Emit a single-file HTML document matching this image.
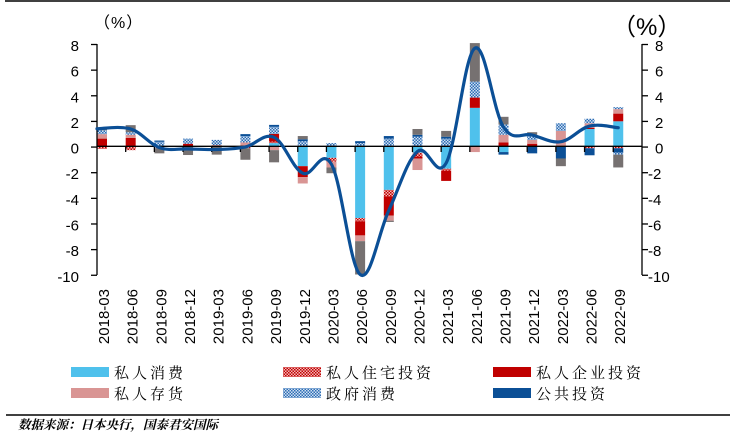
<!DOCTYPE html>
<html><head><meta charset="utf-8"><style>
body{margin:0;background:#fff;}
svg{display:block;}
.t{font-family:"Liberation Sans",sans-serif;font-size:15px;fill:#000;}
.lg{font-family:"Liberation Serif","Noto Serif CJK SC",serif;font-size:15px;letter-spacing:3px;fill:#000;}
</style></head><body>
<svg id="s" width="736" height="432" viewBox="0 0 736 432" xmlns="http://www.w3.org/2000/svg">
<defs>
<pattern id="hr" width="3" height="3" patternUnits="userSpaceOnUse"><rect width="3" height="3" fill="#f2b8b8"/><rect width="1.5" height="1.5" fill="#c00000"/><rect x="1.5" y="1.5" width="1.5" height="1.5" fill="#c00000"/></pattern>
<pattern id="hb" width="3" height="3" patternUnits="userSpaceOnUse"><rect width="3" height="3" fill="#cfe0f2"/><rect width="1.5" height="1.5" fill="#2e6db4"/><rect x="1.5" y="1.5" width="1.5" height="1.5" fill="#2e6db4"/></pattern>
</defs>
<line x1="5" y1="1" x2="730" y2="1" stroke="#000" stroke-width="1.5"/>
<line x1="6" y1="415" x2="730" y2="415" stroke="#000" stroke-width="1.5"/>
<g id="bars"></g>
<line x1="97" y1="146.3" x2="642" y2="146.3" stroke="#000" stroke-width="1.3"/>
<g id="ax" stroke="#000" stroke-width="1.3"></g>
<path id="ln" fill="none" stroke="#0b4f96" stroke-width="3.2" stroke-linecap="round"/>
<text x="94" y="28" class="t" style="font-size:16px;letter-spacing:1px">（%）</text>
<text x="612" y="35" class="t" style="font-size:24px">（%）</text>
<g class="t" text-anchor="end">
<text x="79" y="51">8</text><text x="79" y="76.7">6</text><text x="79" y="102.3">4</text><text x="79" y="128">2</text><text x="79" y="153.6">0</text><text x="79" y="179.2">-2</text><text x="79" y="204.9">-4</text><text x="79" y="230.5">-6</text><text x="79" y="256.2">-8</text><text x="79" y="281.8">-10</text>
</g>
<g class="t">
<text x="655" y="51">8</text><text x="655" y="76.7">6</text><text x="655" y="102.3">4</text><text x="655" y="128">2</text><text x="655" y="153.6">0</text><text x="648" y="179.2">-2</text><text x="648" y="204.9">-4</text><text x="648" y="230.5">-6</text><text x="648" y="256.2">-8</text><text x="648" y="281.8">-10</text>
</g>
<g class="t" style="font-size:15px" text-anchor="end">
<text transform="translate(109,289) rotate(-90)">2018-03</text>
<text transform="translate(137.7,289) rotate(-90)">2018-06</text>
<text transform="translate(166.4,289) rotate(-90)">2018-09</text>
<text transform="translate(195,289) rotate(-90)">2018-12</text>
<text transform="translate(223.7,289) rotate(-90)">2019-03</text>
<text transform="translate(252.4,289) rotate(-90)">2019-06</text>
<text transform="translate(281.1,289) rotate(-90)">2019-09</text>
<text transform="translate(309.8,289) rotate(-90)">2019-12</text>
<text transform="translate(338.4,289) rotate(-90)">2020-03</text>
<text transform="translate(367.1,289) rotate(-90)">2020-06</text>
<text transform="translate(395.8,289) rotate(-90)">2020-09</text>
<text transform="translate(424.5,289) rotate(-90)">2020-12</text>
<text transform="translate(453.2,289) rotate(-90)">2021-03</text>
<text transform="translate(481.8,289) rotate(-90)">2021-06</text>
<text transform="translate(510.5,289) rotate(-90)">2021-09</text>
<text transform="translate(539.2,289) rotate(-90)">2021-12</text>
<text transform="translate(567.9,289) rotate(-90)">2022-03</text>
<text transform="translate(596.6,289) rotate(-90)">2022-06</text>
<text transform="translate(625.2,289) rotate(-90)">2022-09</text>
</g>
<rect x="71" y="367" width="38" height="10" fill="#4fc1ec"/><text x="114" y="378" class="lg">私人消费</text>
<rect x="283" y="367" width="38" height="10" fill="url(#hr)"/><text x="326" y="378" class="lg">私人住宅投资</text>
<rect x="493" y="367" width="38" height="10" fill="#c00000"/><text x="536" y="378" class="lg">私人企业投资</text>
<rect x="71" y="388" width="38" height="10" fill="#d99594"/><text x="114" y="399" class="lg">私人存货</text>
<rect x="283" y="388" width="38" height="10" fill="url(#hb)"/><text x="326" y="399" class="lg">政府消费</text>
<rect x="493" y="388" width="38" height="10" fill="#0b4f96"/><text x="536" y="399" class="lg">公共投资</text>
<text x="18" y="429" style="font-family:'Liberation Serif','Noto Serif CJK SC',serif;font-size:12.5px;font-style:italic;font-weight:bold">数据来源：日本央行，国泰君安国际</text>
</svg>
<script>
var Z=146.3,U=12.82,W=28.68,X0=97;
function Y(v){return Z-v*U;}
var C={lb:"#4fc1ec",hr:"url(#hr)",dr:"#c00000",pk:"#d99594",hb:"url(#hb)",db:"#0b4f96",gr:"#767171"};
var D=[
[[["dr",.6],["pk",.35],["hb",.3],["gr",.2]],[["hr",-.2]]],
[[["dr",.65],["pk",.25],["hb",.2],["gr",.55]],[["hr",-.3]]],
[[["hb",.35],["db",.1]],[["hr",-.15],["gr",-.4]]],
[[["dr",.2],["hb",.4]],[["gr",-.68]]],
[[["pk",.1],["hb",.4]],[["gr",-.65]]],
[[["pk",.3],["hb",.5],["db",.15]],[["hr",-.15],["gr",-.9]]],
[[["lb",.25],["hr",.12],["dr",.6],["hb",.55],["db",.15]],[["pk",-.3],["gr",-.95]]],
[[["hb",.4],["db",.15],["gr",.25]],[["lb",-1.55],["dr",-.85],["pk",-.5]]],
[[["hb",.25]],[["lb",-.9],["hr",-.3],["pk",-.45],["gr",-.45]]],
[[["hb",.25],["db",.15]],[["lb",-5.6],["hr",-.25],["dr",-1.1],["pk",-.45],["gr",-2.6]]],
[[["hb",.6],["db",.2]],[["lb",-3.4],["hr",-.5],["dr",-1.5],["pk",-.4],["gr",-.1]]],
[[["hb",.75],["db",.15],["gr",.45]],[["lb",-.5],["hr",-.3],["dr",-.15],["pk",-.9]]],
[[["hb",.6],["db",.15],["gr",.45]],[["lb",-1.75],["hr",-.15],["dr",-.8]]],
[[["lb",3.0],["dr",.8],["hb",1.25],["gr",3.0]],[["pk",-.45]]],
[[["dr",.3],["pk",.6],["hb",.8],["gr",.6]],[["lb",-.45],["db",-.2]]],
[[["dr",.2],["pk",.3],["hb",.4],["gr",.2]],[["db",-.55]]],
[[["pk",1.2],["hb",.6]],[["db",-.95],["gr",-.6]]],
[[["lb",1.35],["dr",.1],["pk",.35],["hb",.35]],[["hr",-.15],["db",-.55]]],
[[["lb",1.95],["dr",.6],["pk",.35],["hb",.15]],[["hr",-.15],["db",-.35],["hb",-.15],["gr",-1.0]]]
];
var g=document.getElementById("bars"),h="";
D.forEach(function(b,k){var x=X0+k*W;b.forEach(function(st){var acc=0;st.forEach(function(s){var a=acc,e=acc+s[1];acc=e;var y1=Math.max(Y(Math.max(a,e)),40),y2=Math.min(Y(Math.min(a,e)),277);h+='<rect x="'+x+'" y="'+y1+'" width="10" height="'+(y2-y1)+'" fill="'+C[s[0]]+'"/>';});});});
g.innerHTML=h;
var ax="";ax+='<line x1="97" y1="44" x2="97" y2="275"/><line x1="642" y1="44" x2="642" y2="275"/>';
for(var i=0;i<=9;i++){var y=44.5+i*25.64;ax+='<line x1="91" y1="'+y+'" x2="97" y2="'+y+'"/><line x1="642" y1="'+y+'" x2="648" y2="'+y+'"/>';}
for(var k=1;k<19;k++){var x=X0+k*W;ax+='<line x1="'+x+'" y1="146.3" x2="'+x+'" y2="152"/>';}
document.getElementById("ax").innerHTML=ax;
var L=[1.37,1.35,-0.1,-0.2,-0.25,-0.05,0.7,-2.1,-1.4,-10,-5.0,-0.4,-1.3,7.65,1.5,0.88,0.36,1.58,1.45];
var P=L.map(function(v,k){return [X0+5+k*W,Y(v)];});P[0][0]=97;
var d="M"+P[0][0]+","+P[0][1];
for(var i=0;i<P.length-1;i++){var p0=P[Math.max(i-1,0)],p1=P[i],p2=P[i+1],p3=P[Math.min(i+2,P.length-1)],t=0.18;
d+=" C"+(p1[0]+(p2[0]-p0[0])*t)+","+(p1[1]+(p2[1]-p0[1])*t)+" "+(p2[0]-(p3[0]-p1[0])*t)+","+(p2[1]-(p3[1]-p1[1])*t)+" "+p2[0]+","+p2[1];}
document.getElementById("ln").setAttribute("d",d);
</script>
</body></html>
